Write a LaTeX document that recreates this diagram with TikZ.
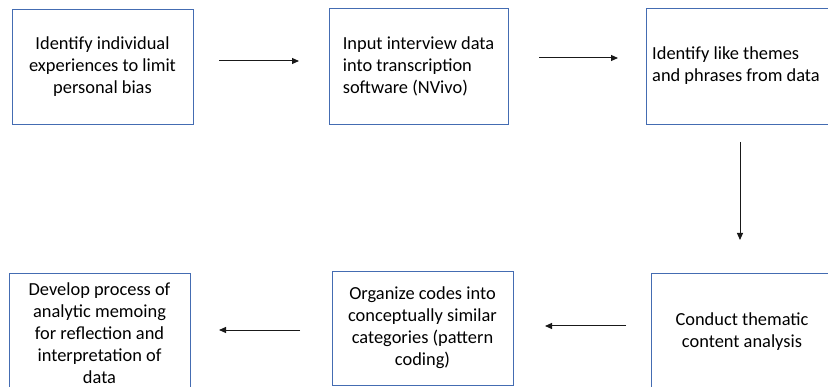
\documentclass[tikz,border=0pt]{standalone}
\usepackage{fontspec}
\setmainfont{Carlito}
\usetikzlibrary{arrows.meta}
\definecolor{boxblue}{RGB}{68,108,178}
\begin{document}
\begin{tikzpicture}[x=1pt,y=1pt,
  stepbox/.style={draw=boxblue, line width=0.9pt, inner sep=0pt, outer sep=0pt,
    anchor=north west, font=\fontsize{18.4}{22}\selectfont},
  steptext/.style={inner sep=0pt, font=\fontsize{18.4}{22}\selectfont},
  flow/.style={line width=1pt, draw=black!90, -{Triangle[length=7pt,width=6pt]}}]
\useasboundingbox (0,0) rectangle (828,386);
\clip (0,0) rectangle (828,386);
\node[stepbox, minimum width=181pt, minimum height=115pt, align=center] (b1) at (12,377)
  {Identify individual\\experiences to limit\\personal bias};
\node[stepbox, minimum width=179pt, minimum height=116pt, align=left] (b2) at (329,378)
  {Input interview data\\into transcription\\software (NVivo)};
\node[stepbox, minimum width=200pt, minimum height=116pt] (b3) at (646,378) {};
\node[steptext, align=left, anchor=west] (t3) at (652,320)
  {Identify like themes\\and phrases from data};
\node[stepbox, minimum width=181pt, minimum height=130pt] (b4) at (9,113) {};
\node[steptext, align=center] (t4) at (99.5,53)
  {Develop process of\\analytic memoing\\for reflection and\\interpretation of\\data};
\node[stepbox, minimum width=200pt, minimum height=118pt] (b6) at (651,113) {};
\node[steptext, align=center] (t6) at (742,54)
  {Conduct thematic\\content analysis};
\node[stepbox, minimum width=181pt, minimum height=114pt, align=center] (b5) at (332,115)
  {Organize codes into\\conceptually similar\\categories (pattern\\coding)};
\coordinate (a1s) at (219,325); \coordinate (a1e) at (299,325);
\coordinate (a2s) at (539,328); \coordinate (a2e) at (618,328);
\coordinate (a3s) at (740,244); \coordinate (a3e) at (740,146);
\coordinate (a4s) at (626,60);  \coordinate (a4e) at (545,60);
\coordinate (a5s) at (300,56);  \coordinate (a5e) at (219,56);
\draw[flow] (a1s) -- (a1e);
\draw[flow] (a2s) -- (a2e);
\draw[flow] (a3s) -- (a3e);
\draw[flow] (a4s) -- (a4e);
\draw[flow] (a5s) -- (a5e);
\end{tikzpicture}
\end{document}
